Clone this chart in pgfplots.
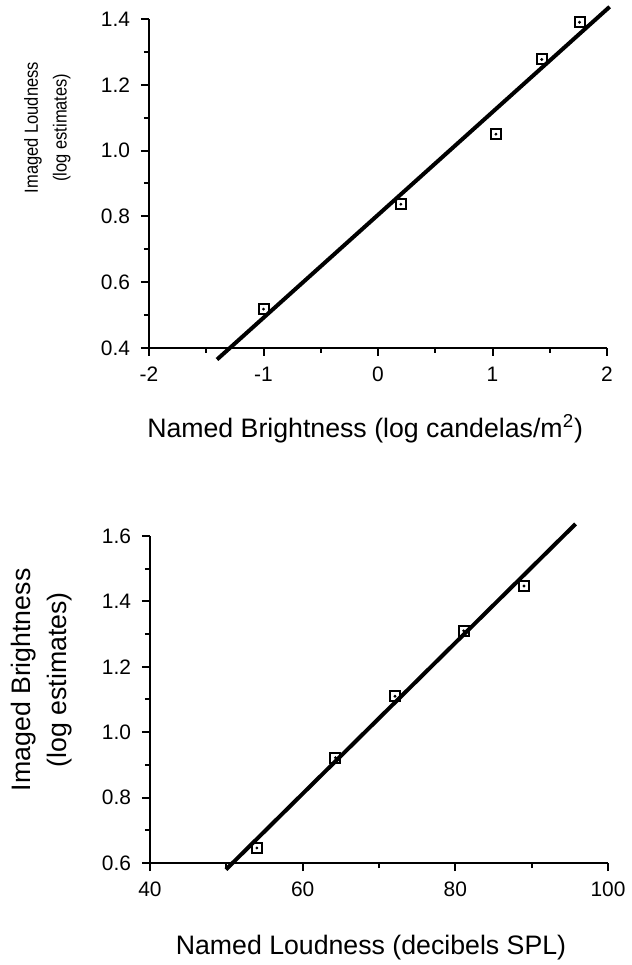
\documentclass[border=0pt]{standalone}
\usepackage{pgfplots}
\pgfplotsset{compat=1.18}
\usepackage{fontspec}
\setmainfont{Liberation Sans}

\pgfplotsset{
  panel/.style={
    scale only axis,
    width=229bp,
    axis x line*=bottom,
    axis y line*=left,
    axis line style={line width=1.3bp},
    tick align=outside,
    major tick length=4bp,
    minor tick length=2.5bp,
    every tick/.style={black, line width=1bp},
    minor tick num=1,
    clip=false,
    tick label style={font=\fontsize{10.5}{12}\selectfont},
    xticklabel style={yshift=-2bp},
    yticklabel style={xshift=-2bp},
    label style={font=\fontsize{13.4}{16}\selectfont},
    xlabel style={anchor=center},
    ylabel style={anchor=center, align=center},
  },
  fit/.style={black, line width=2bp, no marks},
  pts/.style={only marks, mark=square, mark size=2.5bp, mark options={black, line width=1bp, fill=white}},
  dots/.style={only marks, mark=*, mark size=0.5bp, mark options={black}},
}

\begin{document}
\begin{tikzpicture}
\path[use as bounding box] (0,0) rectangle (316bp,482.5bp);

% upper panel
\begin{axis}[panel,
  at={(74.5bp,308.5bp)}, anchor=south west,
  height=164.5bp,
  xmin=-2, xmax=2, ymin=0.4, ymax=1.4,
  xtick={-2,-1,0,1,2}, xticklabels={-2,-1,0,1,2},
  ytick={0.4,0.6,0.8,1.0,1.2,1.4}, yticklabels={0.4,0.6,0.8,1.0,1.2,1.4},
  xlabel={Named Brightness (log candelas/m\textsuperscript{2})},
  xlabel style={at={(axis description cs:0.472,-0.246)}},
  ylabel={Imaged Loudness\\(log estimates)},
  ylabel style={at={(axis description cs:-0.222,0.67)}, font=\fontsize{9.5}{14.5}\selectfont, xscale=0.87},
]
\addplot[fit] coordinates {(-1.406,0.365) (2.023,1.437)};
\addplot[pts] coordinates {(-1.0,0.518) (0.20,0.837) (1.03,1.05) (1.43,1.277) (1.76,1.39)};
\addplot[dots] coordinates {(-1.0,0.518) (0.20,0.837) (1.03,1.05) (1.43,1.277) (1.76,1.39)};
\end{axis}

% lower panel
\begin{axis}[panel,
  at={(75bp,51bp)}, anchor=south west,
  height=163.5bp,
  xmin=40, xmax=100, ymin=0.6, ymax=1.6,
  xtick={40,60,80,100}, xticklabels={40,60,80,100},
  ytick={0.6,0.8,1.0,1.2,1.4,1.6}, yticklabels={0.6,0.8,1.0,1.2,1.4,1.6},
  xlabel={Named Loudness (decibels SPL)},
  xlabel style={at={(axis description cs:0.4825,-0.26)}},
  ylabel={Imaged Brightness\\(log estimates)},
  ylabel style={at={(axis description cs:-0.236,0.56)}, font=\fontsize{13.4}{18}\selectfont},
]
\addplot[fit] coordinates {(49.95,0.58) (95.76,1.637)};
\addplot[pts] coordinates {(54.0,0.646) (64.3,0.922) (72.1,1.11) (81.1,1.31) (89.0,1.447)};
\addplot[dots] coordinates {(54.0,0.646) (64.3,0.922) (72.1,1.11) (81.1,1.31) (89.0,1.447)};
\end{axis}
\end{tikzpicture}
\end{document}
